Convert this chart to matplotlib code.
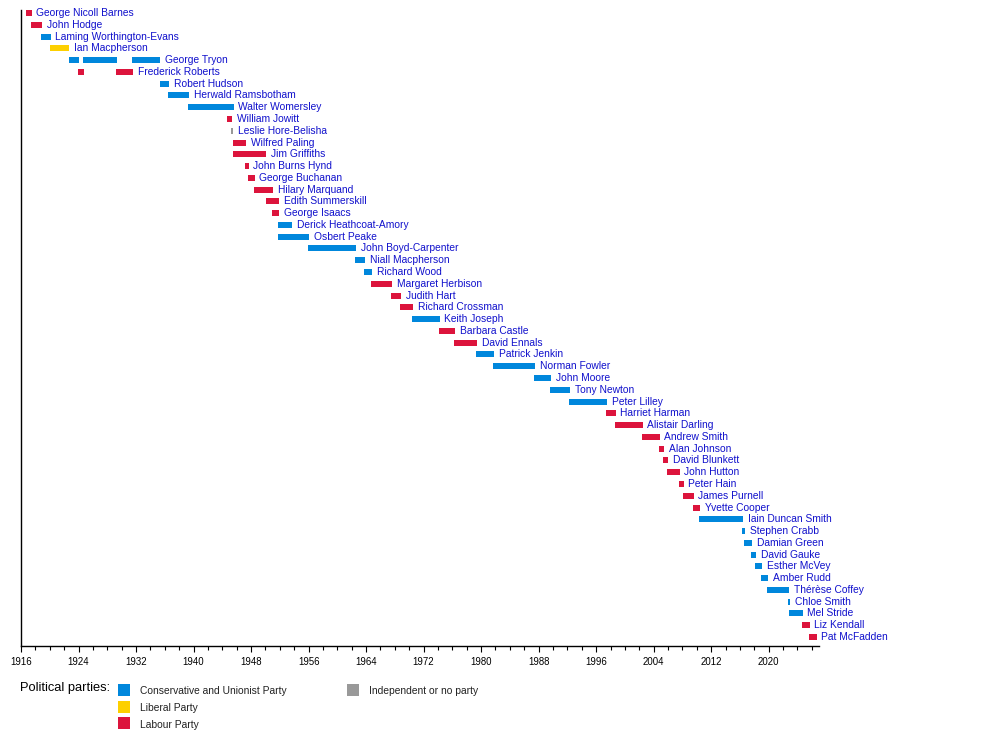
import numpy as np
import matplotlib
matplotlib.use('Agg')
import matplotlib.pyplot as plt
from matplotlib.patches import Rectangle
from matplotlib.ticker import FixedLocator

plt.rcParams['font.family'] = ['Liberation Sans', 'DejaVu Sans']

# office holders, top to bottom
names = [
    'George Nicoll Barnes', 'John Hodge', 'Laming Worthington-Evans', 'Ian Macpherson',
    'George Tryon', 'Frederick Roberts', 'Robert Hudson', 'Herwald Ramsbotham',
    'Walter Womersley', 'William Jowitt', 'Leslie Hore-Belisha', 'Wilfred Paling',
    'Jim Griffiths', 'John Burns Hynd', 'George Buchanan', 'Hilary Marquand',
    'Edith Summerskill', 'George Isaacs', 'Derick Heathcoat-Amory', 'Osbert Peake',
    'John Boyd-Carpenter', 'Niall Macpherson', 'Richard Wood', 'Margaret Herbison',
    'Judith Hart', 'Richard Crossman', 'Keith Joseph', 'Barbara Castle',
    'David Ennals', 'Patrick Jenkin', 'Norman Fowler', 'John Moore',
    'Tony Newton', 'Peter Lilley', 'Harriet Harman', 'Alistair Darling',
    'Andrew Smith', 'Alan Johnson', 'David Blunkett', 'John Hutton',
    'Peter Hain', 'James Purnell', 'Yvette Cooper', 'Iain Duncan Smith',
    'Stephen Crabb', 'Damian Green', 'David Gauke', 'Esther McVey',
    'Amber Rudd', 'Thérèse Coffey', 'Chloe Smith', 'Mel Stride',
    'Liz Kendall', 'Pat McFadden',
]

parties = [
    'Lab', 'Lab', 'Con', 'Lib', 'Con', 'Lab', 'Con', 'Con',
    'Con', 'Lab', 'Ind', 'Lab', 'Lab', 'Lab', 'Lab', 'Lab',
    'Lab', 'Lab', 'Con', 'Con', 'Con', 'Con', 'Con', 'Lab',
    'Lab', 'Lab', 'Con', 'Lab', 'Lab', 'Con', 'Con', 'Con',
    'Con', 'Con', 'Lab', 'Lab', 'Lab', 'Lab', 'Lab', 'Lab',
    'Lab', 'Lab', 'Lab', 'Con', 'Con', 'Con', 'Con', 'Con',
    'Con', 'Con', 'Con', 'Con', 'Lab', 'Lab',
]

# terms in office (decimal years), one list per row
terms = [
    [(1916.70, 1917.49)], [(1917.39, 1918.92)], [(1918.78, 1920.13)], [(1920.08, 1922.68)],
    [(1922.68, 1924.07), (1924.60, 1929.35), (1931.40, 1935.40)],
    [(1923.93, 1924.76), (1929.20, 1931.58)],
    [(1935.33, 1936.63)], [(1936.45, 1939.37)], [(1939.20, 1945.60)], [(1944.65, 1945.35)],
    [(1945.22, 1945.50)], [(1945.50, 1947.30)], [(1945.50, 1950.10)], [(1947.15, 1947.70)],
    [(1947.57, 1948.50)], [(1948.40, 1951.05)], [(1950.07, 1951.88)], [(1950.90, 1951.88)],
    [(1951.74, 1953.69)], [(1951.74, 1956.06)], [(1955.92, 1962.60)], [(1962.45, 1963.84)],
    [(1963.70, 1964.82)], [(1964.68, 1967.60)], [(1967.46, 1968.85)], [(1968.70, 1970.52)],
    [(1970.38, 1974.27)], [(1974.14, 1976.36)], [(1976.22, 1979.42)], [(1979.28, 1981.79)],
    [(1981.65, 1987.49)], [(1987.35, 1989.72)], [(1989.58, 1992.36)], [(1992.22, 1997.50)],
    [(1997.36, 1998.75)], [(1998.60, 2002.50)], [(2002.37, 2004.87)], [(2004.73, 2005.43)],
    [(2005.29, 2005.99)], [(2005.85, 2007.65)], [(2007.51, 2008.21)], [(2008.07, 2009.60)],
    [(2009.46, 2010.44)], [(2010.30, 2016.42)], [(2016.28, 2016.70)], [(2016.56, 2017.67)],
    [(2017.53, 2018.23)], [(2018.09, 2019.06)], [(2018.92, 2019.90)], [(2019.76, 2022.82)],
    [(2022.70, 2022.96)], [(2022.80, 2024.75)], [(2024.60, 2025.70)], [(2025.60, 2026.70)],
]

party_colors = {
    'Con': '#0087DC',
    'Lib': '#FDD000',
    'Lab': '#DC143C',
    'Ind': '#999999',
}
party_names = {
    'Con': 'Conservative and Unionist Party',
    'Lib': 'Liberal Party',
    'Lab': 'Labour Party',
    'Ind': 'Independent or no party',
}

fig = plt.figure(figsize=(10, 7.36), dpi=100)
ax = fig.add_axes([0.021, 0.1223, 0.798, 0.8641])

for i, (name, party, spans) in enumerate(zip(names, parties, terms)):
    for start, end in spans:
        ax.barh(i, end - start, left=start, height=0.51,
                color=party_colors[party], linewidth=0)
    last_end = max(e for s, e in spans)
    ax.annotate(name, xy=(last_end, i), xytext=(3.3, 0), textcoords='offset points',
                va='center', ha='left', fontsize=7.4, color='#1111cc')

ax.set_xlim(1916, 2027)
ax.set_ylim(53.76, -0.255)
ax.xaxis.set_major_locator(FixedLocator(np.arange(1916, 2027, 8)))
ax.xaxis.set_minor_locator(FixedLocator(np.arange(1916, 2027, 2)))
ax.tick_params(axis='x', which='major', length=4.3, width=0.8, pad=3.5,
               labelsize=6.9, direction='out')
ax.tick_params(axis='x', which='minor', length=2.9, width=0.8, direction='out')
ax.set_yticks([])
for side in ['top', 'right']:
    ax.spines[side].set_visible(False)
for side in ['left', 'bottom']:
    ax.spines[side].set_linewidth(1)
ax.patch.set_visible(False)

# legend, laid out by hand in figure pixels
W, H = 1000.0, 736.0

def fx(px):
    return px / W

def fy(py):
    return 1 - py / H

fig.text(fx(20.5), fy(688.5), 'Political parties:', fontsize=9.3, va='center', ha='left')
legend_slots = [('Con', 118, 684), ('Lib', 118, 700.5), ('Lab', 118, 717), ('Ind', 347, 684)]
for key, bx, by in legend_slots:
    fig.add_artist(Rectangle((fx(bx), fy(by + 12)), 12 / W, 12 / H,
                             transform=fig.transFigure, color=party_colors[key], linewidth=0))
    fig.text(fx(bx + 22), fy(by + 7.5), party_names[key], fontsize=7.4,
             va='center', ha='left', color='#222222')

plt.savefig('out.png', dpi=100)
